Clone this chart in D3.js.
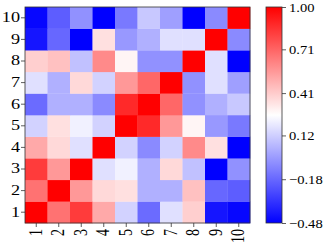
<!DOCTYPE html>
<html lang="en">
<head>
    <meta charset="utf-8">
    <script src="https://d3js.org/d3.v7.min.js"></script>
    <style>
        body { margin: 0; background: #fff; }
        text { font-family: "Liberation Serif", "Times New Roman", serif; fill: #000; }
    </style>
</head>
<body>
<div id="chart"></div>
<script>
    // Labels for both axes (1..10) and the colour bar ticks
    const labels = ["1", "2", "3", "4", "5", "6", "7", "8", "9", "10"];
    const cbarTicks = [-0.48, -0.18, 0.12, 0.41, 0.71, 1.00];

    // Correlation matrix, row i = label i (row 1 is drawn at the bottom)
    const row1  = [1.00, 0.67, 0.83, 0.51, 0.13, -0.17, 0.17, 0.40, -0.42, -0.46];
    const row2  = [0.67, 1.00, 0.56, 0.37, 0.35, 0.03, 0.03, 0.44, -0.18, -0.21];
    const row3  = [0.83, 0.56, 1.00, 0.17, 0.22, 0.03, 0.37, 0.08, -0.48, -0.06];
    const row4  = [0.51, 0.37, 0.17, 1.00, 0.13, -0.08, 0.13, 0.60, 0.35, -0.48];
    const row5  = [0.13, 0.35, 0.22, 0.13, 1.00, 0.88, 0.56, 0.29, -0.04, -0.13];
    const row6  = [-0.17, 0.03, 0.03, -0.08, 0.88, 1.00, 0.70, -0.06, 0.03, 0.10];
    const row7  = [0.17, 0.03, 0.37, 0.13, 0.56, 0.70, 1.00, -0.06, 0.17, -0.02];
    const row8  = [0.40, 0.44, 0.08, 0.60, 0.29, -0.06, -0.06, 1.00, 0.17, -0.48];
    const row9  = [-0.42, -0.18, -0.48, 0.35, -0.04, 0.03, 0.17, 0.17, 1.00, -0.08];
    const row10 = [-0.46, -0.21, -0.06, -0.48, -0.13, 0.10, -0.02, -0.48, -0.08, 1.00];
    const matrix = [row1, row2, row3, row4, row5, row6, row7, row8, row9, row10];

    const W = 325, H = 248;
    const plot = {left: 25, right: 250, top: 7, bottom: 223};
    const cbar = {left: 266, right: 282};
    const stretch = 1.3; // glyphs in the reference are a bit wide

    const svg = d3.select("#chart")
        .append("svg")
        .attr("width", W)
        .attr("height", H);

    const x = d3.scaleBand().domain(labels).range([plot.left, plot.right]);
    const y = d3.scaleBand().domain(labels).range([plot.bottom, plot.top]);

    const vmin = -0.48, vmax = 1.00;
    const color = d3.scaleLinear()
        .domain([vmin, (vmin + vmax) / 2, vmax])
        .range(["#0000ff", "#ffffff", "#ff0000"]);

    // cells
    const cells = [];
    matrix.forEach((row, i) => row.forEach((v, j) => cells.push({r: labels[i], c: labels[j], v: v})));

    svg.append("g")
        .selectAll("rect")
        .data(cells)
        .join("rect")
        .attr("x", d => x(d.c))
        .attr("y", d => y(d.r))
        .attr("width", x.bandwidth() + 0.3)
        .attr("height", y.bandwidth() + 0.3)
        .attr("fill", d => color(d.v));

    // frame
    svg.append("rect")
        .attr("x", plot.left).attr("y", plot.top)
        .attr("width", plot.right - plot.left).attr("height", plot.bottom - plot.top)
        .attr("fill", "none").attr("stroke", "#333").attr("stroke-width", 0.8);

    // y axis
    const yAxis = svg.append("g")
        .attr("transform", `translate(${plot.left},0)`)
        .call(d3.axisLeft(y).tickSize(4).tickPadding(0));
    yAxis.select(".domain").remove();
    yAxis.selectAll("line").attr("stroke", "#333").attr("stroke-width", 0.8);
    yAxis.selectAll("text")
        .attr("x", null).attr("dy", null)
        .attr("font-size", 14)
        .attr("text-anchor", "end")
        .attr("dominant-baseline", "central")
        .attr("transform", `translate(-5,0) scale(${stretch},1)`);

    // x axis
    const xAxis = svg.append("g")
        .attr("transform", `translate(0,${plot.bottom})`)
        .call(d3.axisBottom(x).tickSize(4).tickPadding(0));
    xAxis.select(".domain").remove();
    xAxis.selectAll("line").attr("stroke", "#333").attr("stroke-width", 0.8);
    xAxis.selectAll("text")
        .attr("y", null).attr("dy", null)
        .attr("font-size", 14)
        .attr("text-anchor", "end")
        .attr("dominant-baseline", "central")
        .attr("transform", `translate(0,6) scale(${stretch},1) rotate(-90)`);

    // colour bar
    const cy = d3.scaleLinear().domain([vmin, vmax]).range([plot.bottom, plot.top]);
    const grad = svg.append("defs").append("linearGradient")
        .attr("id", "bwr").attr("x1", 0).attr("y1", 1).attr("x2", 0).attr("y2", 0);
    grad.selectAll("stop")
        .data(d3.range(0, 1.0001, 0.05))
        .join("stop")
        .attr("offset", d => d)
        .attr("stop-color", d => color(vmin + d * (vmax - vmin)));

    svg.append("rect")
        .attr("x", cbar.left).attr("y", plot.top)
        .attr("width", cbar.right - cbar.left).attr("height", plot.bottom - plot.top)
        .attr("fill", "url(#bwr)")
        .attr("stroke", "#333").attr("stroke-width", 0.8);

    const cAxis = svg.append("g")
        .attr("transform", `translate(${cbar.right},0)`)
        .call(d3.axisRight(cy).tickValues(cbarTicks).tickSize(4).tickPadding(0)
            .tickFormat(d => d3.format(".2f")(d).replace("-", "\u2212")));
    cAxis.select(".domain").remove();
    cAxis.selectAll("line").attr("stroke", "#333").attr("stroke-width", 0.8);
    cAxis.selectAll("text")
        .attr("x", null).attr("dy", null)
        .attr("font-size", 13)
        .attr("text-anchor", "start")
        .attr("dominant-baseline", "central")
        .attr("transform", `translate(7,0) scale(1.12,1)`);
</script>
</body>
</html>
